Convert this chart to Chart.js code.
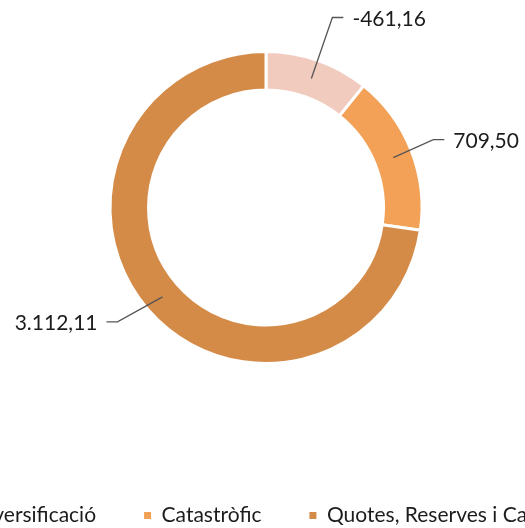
<!DOCTYPE html>
<html>
<head>
<meta charset="utf-8">
<script src="https://cdn.jsdelivr.net/npm/chart.js@4/dist/chart.umd.min.js"></script>
<style>
  html, body { margin: 0; padding: 0; background: #ffffff; overflow: hidden; width: 525px; height: 528px; }
  #wrap { position: absolute; top: 0; left: -184px; width: 900px; height: 528px; }
</style>
</head>
<body>
<div id="wrap"><canvas id="c" width="900" height="528" style="width:900px;height:528px"></canvas></div>
<script>
const categories = ['Diversificació', 'Catastròfic', 'Quotes, Reserves i Caiguda'];
const values = [-461.16, 709.50, 3112.11];
const sliceColors = ['#F2CBBF', '#F3A157', '#D58B48'];
// leader-line layout for each data label (styling only)
const labelElbow = [[21, -61], [40, -18], [-45, 25]];
const labelDir = [1, 1, -1];

function fmt(v) {
  const neg = v < 0;
  const parts = Math.abs(v).toFixed(2).split('.');
  const intPart = parts[0].replace(/\B(?=(\d{3})+(?!\d))/g, '.');
  return (neg ? '-' : '') + intPart + ',' + parts[1];
}

const leaderLabels = {
  id: 'leaderLabels',
  afterDatasetsDraw(chart) {
    const ctx = chart.ctx;
    const meta = chart.getDatasetMeta(0);
    ctx.save();
    meta.data.forEach((arc, i) => {
      const p = arc.tooltipPosition();
      const ex = p.x + labelElbow[i][0];
      const ey = p.y + labelElbow[i][1];
      const hx = ex + labelDir[i] * 11;
      ctx.beginPath();
      ctx.moveTo(p.x, p.y);
      ctx.lineTo(ex, ey);
      ctx.lineTo(hx, ey);
      ctx.strokeStyle = '#555555';
      ctx.lineWidth = 1.3;
      ctx.stroke();
      ctx.fillStyle = '#1c1c1c';
      ctx.font = '21px Lato';
      ctx.textBaseline = 'middle';
      ctx.textAlign = labelDir[i] > 0 ? 'left' : 'right';
      ctx.fillText(fmt(values[i]), hx + labelDir[i] * 9, ey + 1.5);
    });
    ctx.restore();
  }
};

new Chart(document.getElementById('c'), {
  type: 'doughnut',
  data: {
    labels: categories,
    datasets: [{
      data: values,
      backgroundColor: sliceColors,
      borderColor: '#ffffff',
      borderWidth: 3,
      hoverOffset: 0
    }]
  },
  options: {
    responsive: false,
    animation: false,
    cutout: '75.3%',
    layout: { padding: { top: 50, bottom: -8, left: 0, right: 0 } },
    plugins: {
      tooltip: { enabled: false },
      legend: {
        position: 'bottom',
        align: 'center',
        title: { display: true, text: '', font: { size: 10 }, padding: { top: 80, bottom: 0 } },
        labels: {
          boxWidth: 7,
          boxHeight: 7,
          padding: 48,
          color: '#1c1c1c',
          font: { family: 'Lato', size: 21 },
          generateLabels(chart) {
            const items = Chart.overrides.doughnut.plugins.legend.labels.generateLabels(chart);
            return items.map(it => Object.assign(it, { lineWidth: 0, strokeStyle: 'rgba(0,0,0,0)' }));
          }
        }
      }
    }
  },
  plugins: [leaderLabels]
});
</script>
</body>
</html>
